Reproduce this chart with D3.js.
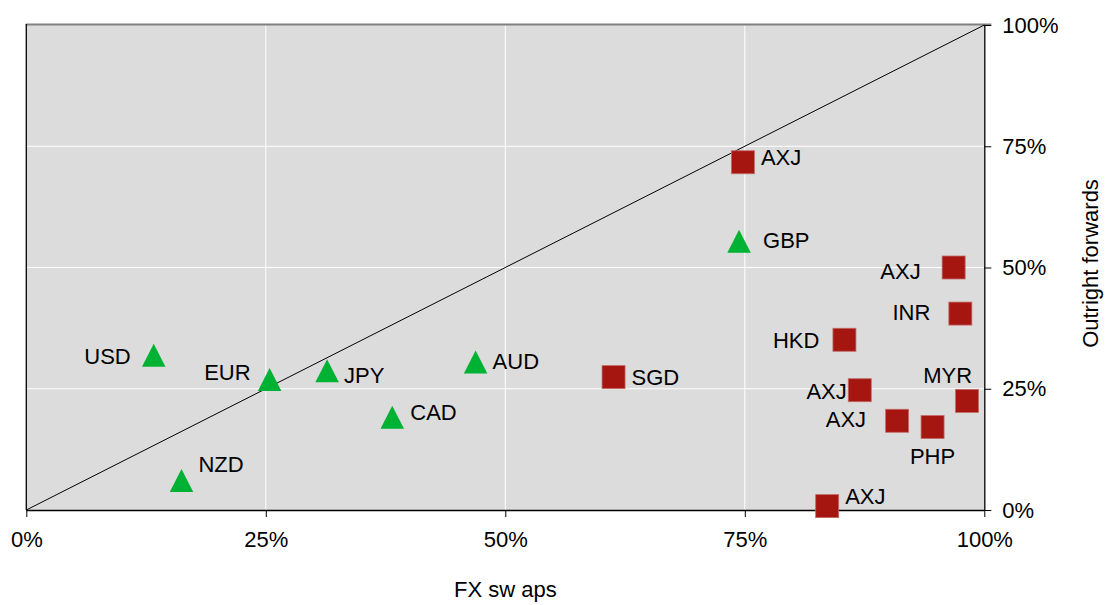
<!DOCTYPE html>
<html>
<head>
<meta charset="utf-8">
<script src="https://cdn.jsdelivr.net/npm/d3@7"></script>
<style>
  html, body { margin: 0; padding: 0; background: #ffffff; }
  svg { display: block; font-family: "Liberation Sans", Arial, sans-serif; }
</style>
</head>
<body>
<svg id="chart" width="1107" height="605"></svg>
<script>
// ---- data ----
const g10Names = ["USD", "EUR", "JPY", "CAD", "NZD", "AUD", "GBP"];
const g10Swaps = [0.133, 0.254, 0.314, 0.382, 0.162, 0.469, 0.744];
const g10Outright = [0.319, 0.269, 0.287, 0.191, 0.061, 0.305, 0.554];

const asiaNames = ["AXJ", "AXJ", "INR", "HKD", "SGD", "AXJ", "MYR", "AXJ", "PHP", "AXJ"];
const asiaSwaps = [0.748, 0.968, 0.975, 0.854, 0.613, 0.870, 0.982, 0.909, 0.946, 0.836];
const asiaOutright = [0.717, 0.500, 0.405, 0.351, 0.274, 0.247, 0.225, 0.184, 0.171, 0.008];

const tickValues = [0, 0.25, 0.5, 0.75, 1];
const xTitle = "FX sw aps";
const yTitle = "Outright forwards";

// ---- label placement (layout, not data) ----
const g10Label = [
  {dx: -23, dy: 9, anchor: "end"},
  {dx: -19, dy: 0, anchor: "end"},
  {dx: 17, dy: 12.5, anchor: "start"},
  {dx: 18, dy: 3, anchor: "start"},
  {dx: 17, dy: -8, anchor: "start"},
  {dx: 17, dy: 7, anchor: "start"},
  {dx: 24, dy: 7, anchor: "start"}
];
const asiaLabel = [
  {dx: 18, dy: 3, anchor: "start"},
  {dx: -33, dy: 11.5, anchor: "end"},
  {dx: -30, dy: 6.5, anchor: "end"},
  {dx: -25, dy: 8.5, anchor: "end"},
  {dx: 18, dy: 8, anchor: "start"},
  {dx: -13, dy: 8.5, anchor: "end"},
  {dx: 5, dy: -17.5, anchor: "end"},
  {dx: -31, dy: 6, anchor: "end"},
  {dx: 0, dy: 37, anchor: "middle"},
  {dx: 18, dy: -2.5, anchor: "start"}
];

// ---- layout ----
const pL = 26.3, pR = 984.3, pT = 25, pB = 510;
const svg = d3.select("#chart");
const x = d3.scaleLinear().domain([0, 1]).range([pL, pR]);
const y = d3.scaleLinear().domain([0, 1]).range([pB, pT]);
const fmt = d => d3.format(".0%")(d);
const FS = 22;

// plot background
svg.append("rect")
  .attr("x", pL).attr("y", pT)
  .attr("width", pR - pL).attr("height", pB - pT)
  .attr("fill", "#dcdcdc");

// gridlines
const inner = tickValues.filter(d => d > 0 && d < 1);
svg.append("g").selectAll("line").data(inner).enter().append("line")
  .attr("x1", d => x(d)).attr("x2", d => x(d))
  .attr("y1", pT).attr("y2", pB)
  .attr("stroke", "#ffffff").attr("stroke-width", 1);
svg.append("g").selectAll("line").data(inner).enter().append("line")
  .attr("y1", d => y(d)).attr("y2", d => y(d))
  .attr("x1", pL).attr("x2", pR)
  .attr("stroke", "#ffffff").attr("stroke-width", 1);

// borders
svg.append("line").attr("x1", pL - 0.5).attr("x2", pR + 7).attr("y1", pT - 0.5).attr("y2", pT - 0.5)
  .attr("stroke", "#808080").attr("stroke-width", 2);
svg.append("line").attr("x1", pL).attr("x2", pL).attr("y1", pT - 1).attr("y2", pB)
  .attr("stroke", "#000").attr("stroke-width", 1.3);

// diagonal
svg.append("line")
  .attr("x1", x(0)).attr("y1", y(0)).attr("x2", x(1)).attr("y2", y(1))
  .attr("stroke", "#000").attr("stroke-width", 1);

// bottom axis
const xAxis = d3.axisBottom(x).tickValues(tickValues).tickFormat(fmt).tickSize(7).tickPadding(14);
const gx = svg.append("g").attr("transform", `translate(0,${pB})`).call(xAxis);
gx.select(".domain").attr("stroke", "#000").attr("stroke-width", 1.3).attr("d", `M${pL},0.5H${pR}`);
gx.selectAll(".tick line").attr("stroke", "#000");
gx.selectAll(".tick text").attr("font-size", FS).attr("fill", "#000")
  .attr("font-family", "Liberation Sans, Arial, sans-serif");

// right axis
const yAxis = d3.axisRight(y).tickValues(tickValues).tickFormat(fmt).tickSize(7).tickPadding(11);
const gy = svg.append("g").attr("transform", `translate(${pR},0)`).call(yAxis);
gy.select(".domain").attr("stroke", "#000").attr("stroke-width", 1.3).attr("d", `M0.5,${pT}V${pB}`);
gy.selectAll(".tick line").attr("stroke", "#000");
gy.selectAll(".tick text").attr("font-size", FS).attr("fill", "#000")
  .attr("font-family", "Liberation Sans, Arial, sans-serif");

// axis titles
svg.append("text").attr("x", x(0.5)).attr("y", 597)
  .attr("text-anchor", "middle").attr("font-size", FS).attr("fill", "#000")
  .text(xTitle);
svg.append("text")
  .attr("transform", `translate(1098,${(pT + pB) / 2 - 4}) rotate(-90)`)
  .attr("text-anchor", "middle").attr("font-size", FS).attr("fill", "#000")
  .text(yTitle);

// G10 triangles
const g10 = g10Names.map((n, i) => ({name: n, sx: g10Swaps[i], oy: g10Outright[i], lab: g10Label[i]}));
const tw = 23.5, th = 23;
svg.append("g").selectAll("path").data(g10).enter().append("path")
  .attr("d", d => {
    const cx = x(d.sx), cy = y(d.oy);
    return `M${cx},${cy - th / 2}L${cx + tw / 2},${cy + th / 2}L${cx - tw / 2},${cy + th / 2}Z`;
  })
  .attr("fill", "#00b233");
svg.append("g").selectAll("text").data(g10).enter().append("text")
  .attr("x", d => x(d.sx) + d.lab.dx).attr("y", d => y(d.oy) + d.lab.dy)
  .attr("text-anchor", d => d.lab.anchor).attr("font-size", FS).attr("fill", "#000")
  .text(d => d.name);

// Asia squares
const asia = asiaNames.map((n, i) => ({name: n, sx: asiaSwaps[i], oy: asiaOutright[i], lab: asiaLabel[i]}));
const sq = 23;
svg.append("g").selectAll("rect").data(asia).enter().append("rect")
  .attr("x", d => x(d.sx) - sq / 2).attr("y", d => y(d.oy) - sq / 2)
  .attr("width", sq).attr("height", sq)
  .attr("fill", "#a51611").attr("stroke", "#c46a66").attr("stroke-width", 0.8);
svg.append("g").selectAll("text").data(asia).enter().append("text")
  .attr("x", d => x(d.sx) + d.lab.dx).attr("y", d => y(d.oy) + d.lab.dy)
  .attr("text-anchor", d => d.lab.anchor).attr("font-size", FS).attr("fill", "#000")
  .text(d => d.name);
</script>
</body>
</html>
